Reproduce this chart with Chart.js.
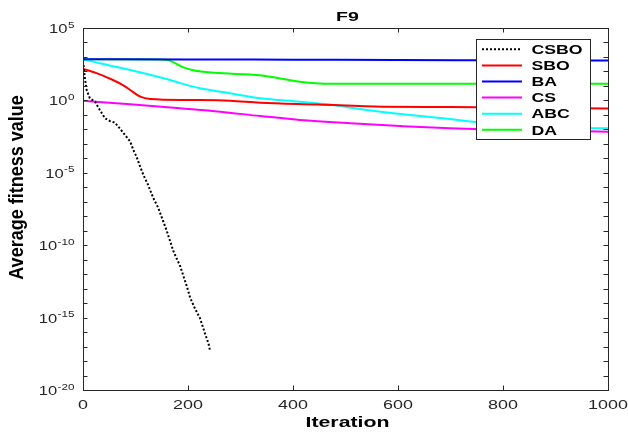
<!DOCTYPE html>
<html>
<head>
<meta charset="utf-8">
<script src="https://cdn.jsdelivr.net/npm/chart.js@4/dist/chart.umd.min.js"></script>
<style>
  html, body { margin: 0; padding: 0; background: #fff; }
  #wrap { width: 628px; height: 435px; position: relative; }
</style>
</head>
<body>
<div id="wrap"><canvas id="c"></canvas></div>
<script>
// ---- chart text ----
const chartTitle = 'F9';
const xAxisTitle = 'Iteration';
const yAxisTitle = 'Average fitness value';
const xTickValues = [0, 200, 400, 600, 800, 1000];
const xTickLabels = ['0', '200', '400', '600', '800', '1000'];
const yTickValues = [1e5, 1e0, 1e-5, 1e-10, 1e-15, 1e-20];
const yTickExponents = ['5', '0', '-5', '-10', '-15', '-20'];
const yMinorValues = [1e4,1e3,1e2,1e1,1e-1,1e-2,1e-3,1e-4,1e-6,1e-7,1e-8,1e-9,
  1e-11,1e-12,1e-13,1e-14,1e-16,1e-17,1e-18,1e-19];

// ---- series: iteration / average fitness ----
const csboIter = [1, 4, 7, 13, 23, 32, 42, 51, 61, 70, 80, 90, 96, 102, 109, 115, 124, 134, 143,
  159, 172, 185, 198, 204, 213, 223, 232, 239, 242];
const csboVal = [275, 25.7, 5.2, 1.41, 0.81, 0.219, 0.0575, 0.038, 0.0288, 0.0117, 4.1e-3, 1.41e-3,
  3.7e-4, 1.29e-4, 2.6e-5, 7.1e-6, 1.45e-6, 1.8e-7, 4.0e-8, 1.12e-9, 4.0e-11, 3.6e-12, 1.35e-13,
  2.45e-14, 4.4e-15, 8.9e-16, 8.7e-17, 1.66e-17, 4.9e-18];

const sboIter = [0, 27, 57, 76, 90, 109, 128, 204, 280, 337, 446, 571, 699, 1000];
const sboVal = [150, 74, 25.7, 11.5, 5.25, 1.82, 1.26, 1.07, 0.955, 0.69, 0.52, 0.37, 0.35, 0.28];

const baIter = [0, 200, 400, 600, 800, 1000];
const baVal = [690, 680, 650, 625, 590, 560];

const csIter = [0, 90, 185, 261, 337, 413, 509, 604, 699, 743, 1000];
const csVal = [0.955, 0.537, 0.282, 0.166, 0.083, 0.0447, 0.0263, 0.017, 0.0117, 0.0105, 0.0069];

const abcIter = [0, 32, 90, 166, 185, 223, 280, 337, 413, 465, 541, 623, 699, 743, 850, 920, 985, 1000];
const abcVal = [692, 363, 126, 25.7, 15.8, 6.9, 3.09, 1.41, 0.81, 0.537, 0.219, 0.098, 0.052,
  0.034, 0.0178, 0.0135, 0.0117, 0.0117];

const daIter = [0, 145, 165, 190, 210, 250, 337, 413, 470, 1000];
const daVal = [690, 680, 560, 200, 120, 80, 54, 19.5, 14.1, 14.0];

const seriesNames = ['CSBO', 'SBO', 'BA', 'CS', 'ABC', 'DA'];
const seriesColors = ['#000000', '#ff0000', '#0000ff', '#ff00ff', '#00ffff', '#00ff00'];

function points(xs, ys) { return xs.map((x, i) => ({ x: x, y: ys[i] })); }

const seriesData = [
  points(csboIter, csboVal), points(sboIter, sboVal), points(baIter, baVal),
  points(csIter, csVal), points(abcIter, abcVal), points(daIter, daVal)
];

const datasets = seriesNames.map((name, i) => ({
  label: name,
  data: seriesData[i],
  borderColor: seriesColors[i],
  backgroundColor: seriesColors[i],
  borderWidth: 2,
  borderDash: i === 0 ? [2, 2] : [],
  pointRadius: 0,
  fill: false,
  cubicInterpolationMode: i === 0 ? 'default' : 'monotone',
  tension: 0
}));

// ---- drawing helpers ----
const AXIS_COLOR = '#262626';
const FONT = '"Liberation Sans", Arial, Helvetica, sans-serif';
const SX = 1.38; // horizontal glyph widening used for all axis text

function wideText(ctx, str, x, y, font, align, sx) {
  ctx.save();
  ctx.font = font;
  ctx.translate(x, y);
  ctx.scale(sx, 1);
  ctx.textAlign = align;
  ctx.textBaseline = 'alphabetic';
  ctx.fillText(str, 0, 0);
  ctx.restore();
}
function textWidth(ctx, str, font, sx) {
  ctx.save(); ctx.font = font; const w = ctx.measureText(str).width * sx; ctx.restore(); return w;
}

const axesDecor = {
  id: 'axesDecor',
  afterDatasetsDraw(chart) {
    const ctx = chart.ctx;
    const a = chart.chartArea;
    const xs = chart.scales.x, ys = chart.scales.y;
    const tl = 4.5;
    ctx.save();
    ctx.strokeStyle = AXIS_COLOR;
    ctx.lineWidth = 1;

    // box
    ctx.strokeRect(Math.round(a.left) + 0.5, Math.round(a.top) + 0.5,
      Math.round(a.right - a.left), Math.round(a.bottom - a.top));

    // inward ticks
    ctx.beginPath();
    xTickValues.forEach(v => {
      const px = Math.round(xs.getPixelForValue(v)) + 0.5;
      ctx.moveTo(px, a.bottom); ctx.lineTo(px, a.bottom - tl);
      ctx.moveTo(px, a.top); ctx.lineTo(px, a.top + tl);
    });
    yTickValues.concat(yMinorValues).forEach(v => {
      const py = Math.round(ys.getPixelForValue(v)) + 0.5;
      ctx.moveTo(a.left, py); ctx.lineTo(a.left + tl, py);
      ctx.moveTo(a.right, py); ctx.lineTo(a.right - tl, py);
    });
    ctx.stroke();

    // x tick labels
    ctx.fillStyle = AXIS_COLOR;
    xTickValues.forEach((v, i) => {
      const px = xs.getPixelForValue(v);
      wideText(ctx, xTickLabels[i], px, a.bottom + 19, '13px ' + FONT, 'center', SX);
    });

    // y tick labels (10 with superscript exponent)
    const baseFont = '12px ' + FONT, supFont = '9px ' + FONT;
    const rightEdge = a.left - 8.5;
    yTickValues.forEach((v, i) => {
      const py = ys.getPixelForValue(v);
      const ew = textWidth(ctx, yTickExponents[i], supFont, 1.3);
      const bw = textWidth(ctx, '10', baseFont, SX);
      wideText(ctx, '10', rightEdge - ew - bw - 0.5, py + 5, baseFont, 'left', SX);
      wideText(ctx, yTickExponents[i], rightEdge - ew, py - 0.5, supFont, 'left', 1.3);
    });

    // titles
    ctx.fillStyle = '#000';
    const cx = (a.left + a.right) / 2 + 2;
    wideText(ctx, chartTitle, cx, 21, 'bold 13px ' + FONT, 'center', 1.5);
    wideText(ctx, xAxisTitle, cx, 427, 'bold 15px ' + FONT, 'center', 1.42);
    ctx.save();
    ctx.translate(23, 187.5);
    ctx.rotate(-Math.PI / 2);
    ctx.scale(1, 1.12);
    ctx.font = 'bold 18px ' + FONT;
    ctx.textAlign = 'center';
    ctx.textBaseline = 'alphabetic';
    ctx.fillText(yAxisTitle, 0, 0);
    ctx.restore();

    // legend
    const lx = 476.5, ly = 39.5, lw = 114, lh = 100;
    ctx.fillStyle = '#fff';
    ctx.fillRect(lx, ly, lw, lh);
    ctx.strokeStyle = AXIS_COLOR;
    ctx.lineWidth = 1;
    ctx.strokeRect(lx, ly, lw, lh);
    chart.data.datasets.forEach((ds, i) => {
      const ey = 49.3 + i * 16.1;
      ctx.save();
      ctx.strokeStyle = ds.borderColor;
      ctx.lineWidth = 2;
      ctx.setLineDash(ds.borderDash || []);
      ctx.beginPath();
      ctx.moveTo(482, ey); ctx.lineTo(522, ey);
      ctx.stroke();
      ctx.restore();
      ctx.fillStyle = '#000';
      wideText(ctx, ds.label, 531.5, ey + 4.7, 'bold 13px ' + FONT, 'left', 1.36);
    });
    ctx.restore();
  }
};

const whiteBg = {
  id: 'whiteBg',
  beforeDraw(chart) {
    const ctx = chart.ctx;
    ctx.save(); ctx.fillStyle = '#fff';
    ctx.fillRect(0, 0, chart.width, chart.height); ctx.restore();
  }
};

new Chart(document.getElementById('c'), {
  type: 'line',
  data: { datasets: datasets },
  options: {
    responsive: true,
    maintainAspectRatio: false,
    animation: false,
    layout: { padding: { left: 83, right: 20, top: 28, bottom: 45 } },
    plugins: { legend: { display: false }, tooltip: { enabled: false }, title: { display: false } },
    scales: {
      x: { type: 'linear', min: 0, max: 1000, display: false },
      y: { type: 'logarithmic', min: 1e-20, max: 1e5, display: false }
    }
  },
  plugins: [whiteBg, axesDecor]
});
</script>
</body>
</html>
